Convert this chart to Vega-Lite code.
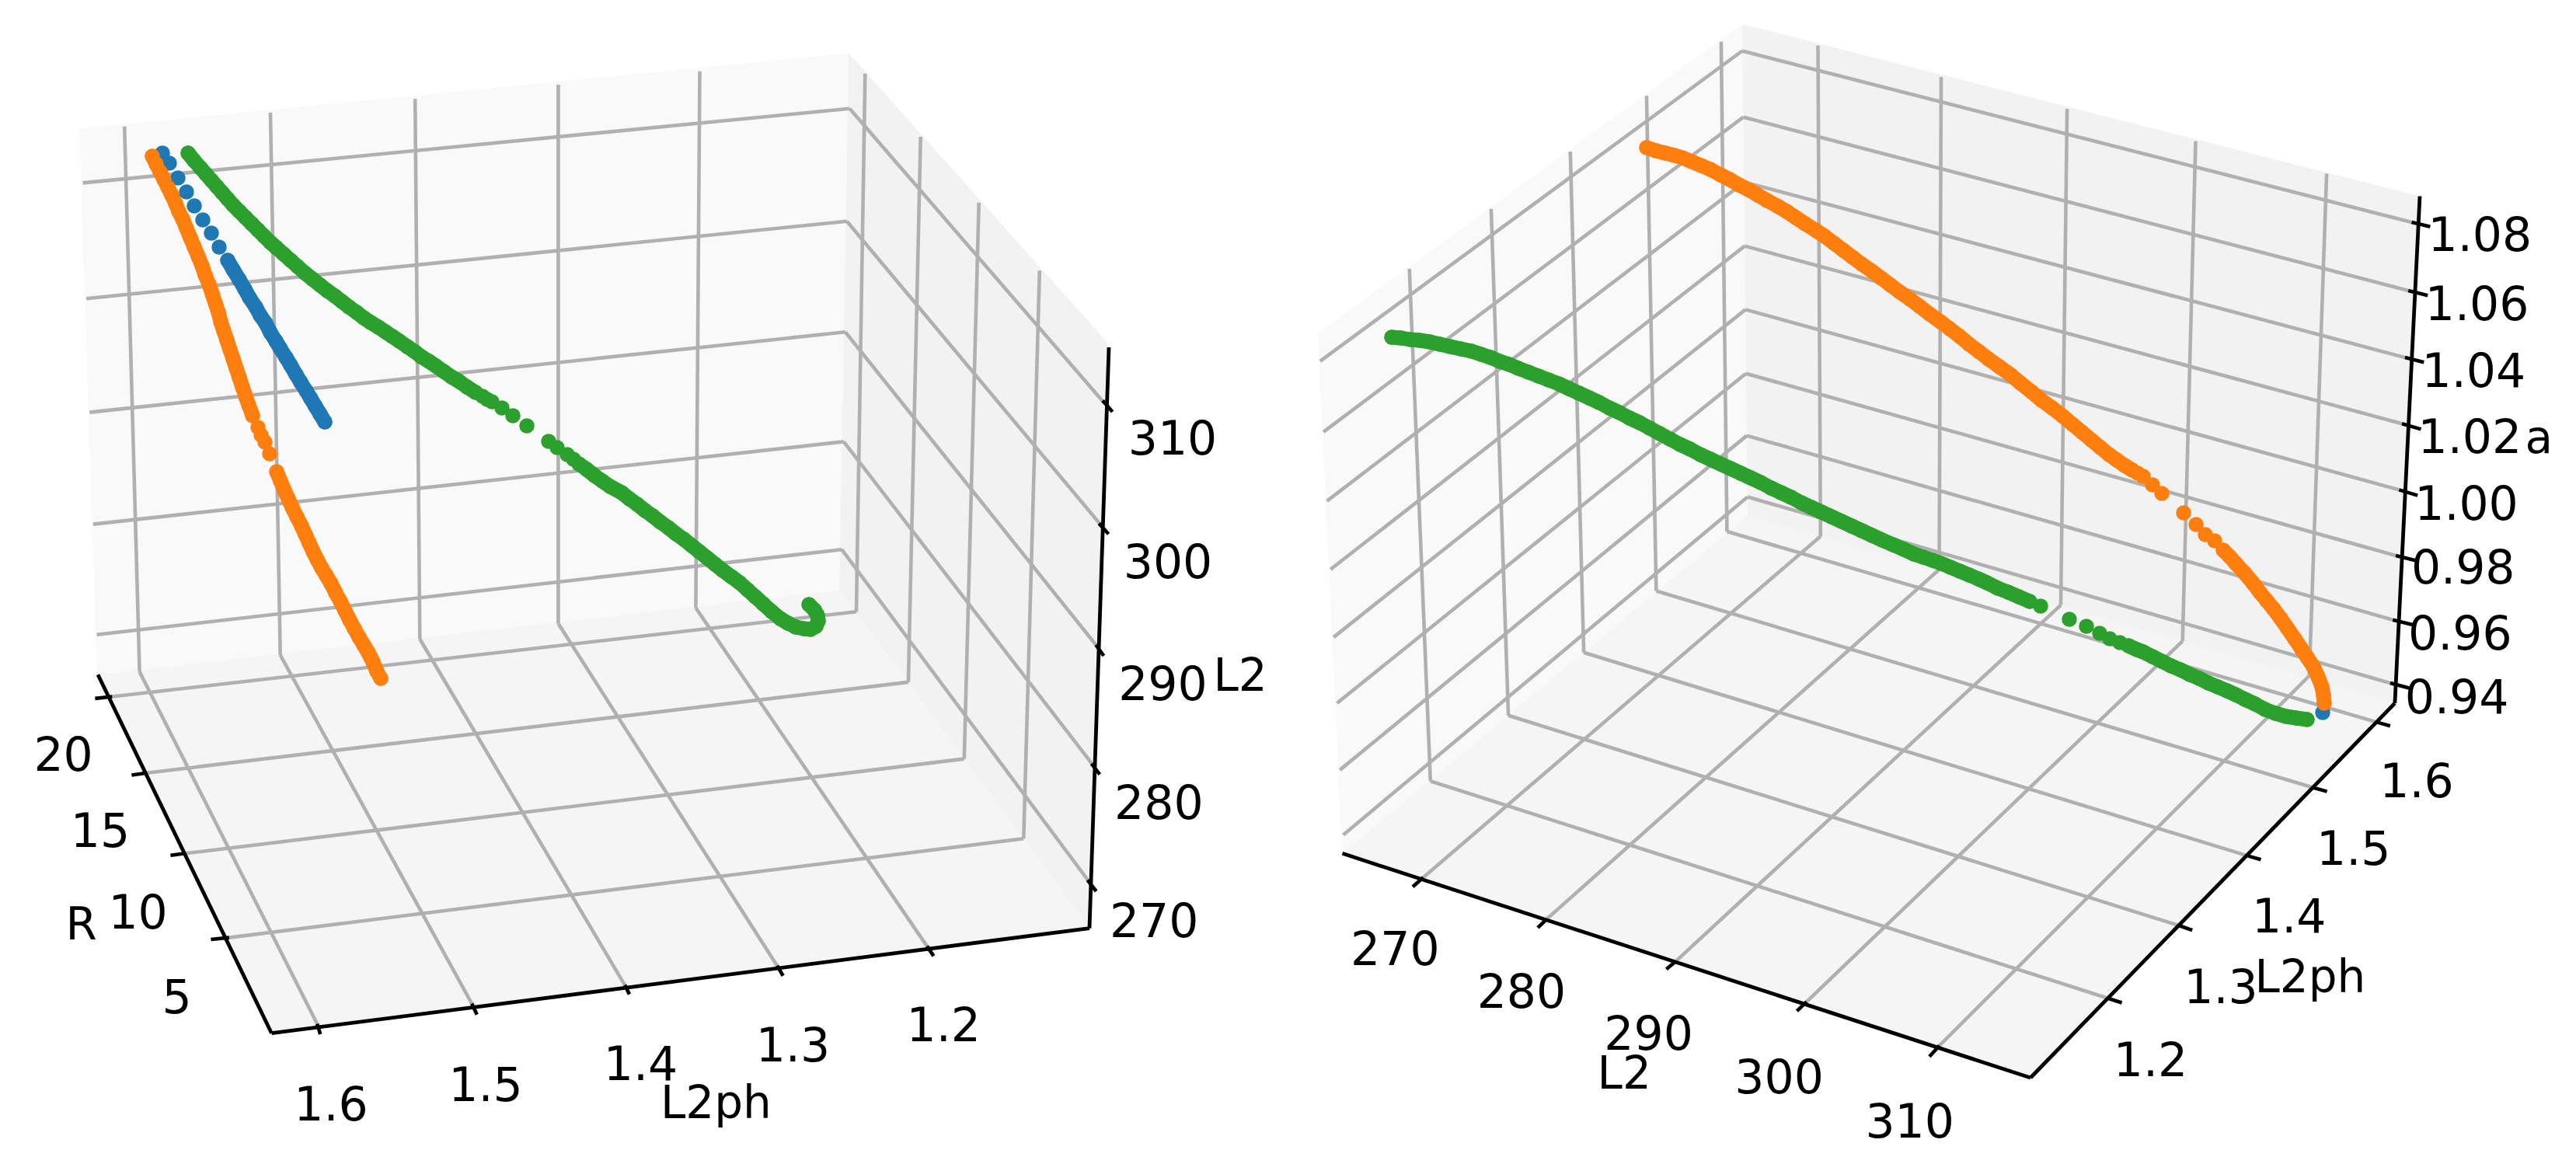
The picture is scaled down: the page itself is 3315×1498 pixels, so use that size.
{"$schema":"https://vega.github.io/schema/vega-lite/v6.json",
"width":3315,"height":1498,"padding":0,
"autosize":{"type":"fit","contains":"padding"},
"background":"#ffffff",
"config":{"view":{"stroke":null},"text":{"font":"DejaVu Sans"}},
"datasets":{
"panes":[
{"pane":"a1","i":0,"x":102,"y":165.5},{"pane":"a1","i":1,"x":1092.3,"y":68.4},{"pane":"a1","i":2,"x":1080,"y":759.5},{"pane":"a1","i":3,"x":125,"y":868.3},
{"pane":"b1","i":0,"x":1092.3,"y":68.4},{"pane":"b1","i":1,"x":1426.5,"y":442.6},{"pane":"b1","i":2,"x":1402,"y":1194.6},{"pane":"b1","i":3,"x":1080,"y":759.5},
{"pane":"c1","i":0,"x":125,"y":868.3},{"pane":"c1","i":1,"x":1080,"y":759.5},{"pane":"c1","i":2,"x":1402,"y":1194.6},{"pane":"c1","i":3,"x":349.5,"y":1329.7},
{"pane":"a2","i":0,"x":1696,"y":429},{"pane":"a2","i":1,"x":2242,"y":31},{"pane":"a2","i":2,"x":2249,"y":664},{"pane":"a2","i":3,"x":1727.5,"y":1098.3},
{"pane":"b2","i":0,"x":2242,"y":31},{"pane":"b2","i":1,"x":3113.9,"y":252.5},{"pane":"b2","i":2,"x":3081.9,"y":905},{"pane":"b2","i":3,"x":2249,"y":664},
{"pane":"c2","i":0,"x":1727.5,"y":1098.3},{"pane":"c2","i":1,"x":2249,"y":664},{"pane":"c2","i":2,"x":3081.9,"y":905},{"pane":"c2","i":3,"x":2613,"y":1387}
],
"grid":[
{"x":106.6,"y":235.4,"x2":1093.4,"y2":139.7},{"x":1093.4,"y":139.7,"x2":1421.4,"y2":519},
{"x":111.2,"y":384.2,"x2":1089.8,"y2":284.7},{"x":1089.8,"y":284.7,"x2":1415.8,"y2":674.6},
{"x":115.3,"y":530.6,"x2":1087.8,"y2":427.3},{"x":1087.8,"y":427.3,"x2":1411.2,"y2":831},
{"x":119.9,"y":674.6,"x2":1085.7,"y2":568.4},{"x":1085.7,"y":568.4,"x2":1406,"y2":983.8},
{"x":124.5,"y":816.8,"x2":1083.2,"y2":707.2},{"x":1083.2,"y":707.2,"x2":1401,"y2":1134},
{"x":160.2,"y":162.7,"x2":179.6,"y2":864.5},{"x":179.6,"y":864.5,"x2":408.2,"y2":1317.7},
{"x":348,"y":145,"x2":360.7,"y2":843},{"x":360.7,"y":843,"x2":607.1,"y2":1291.5},
{"x":534.2,"y":127.3,"x2":540.3,"y2":822.5},{"x":540.3,"y":822.5,"x2":804,"y2":1267.6},
{"x":718.4,"y":109,"x2":718.4,"y2":802.5},{"x":718.4,"y":802.5,"x2":1000,"y2":1242.8},
{"x":900.5,"y":91.8,"x2":895.4,"y2":782.4},{"x":895.4,"y":782.4,"x2":1192.9,"y2":1217.6},
{"x":1113.3,"y":94.7,"x2":1102,"y2":787.2},{"x":1102,"y":787.2,"x2":144.4,"y2":896.5},
{"x":1184.7,"y":176,"x2":1168.9,"y2":877.9},{"x":1168.9,"y":877.9,"x2":188.8,"y2":994.7},
{"x":1259.7,"y":260.7,"x2":1240.8,"y2":976.6},{"x":1240.8,"y":976.6,"x2":238.8,"y2":1098.3},
{"x":1337.8,"y":348.3,"x2":1317.3,"y2":1079.2},{"x":1317.3,"y":1079.2,"x2":294.9,"y2":1206.6},
{"x":1698.8,"y":464.9,"x2":2242,"y2":65.5},{"x":2242,"y":65.5,"x2":3103.5,"y2":286},
{"x":1703.1,"y":555.8,"x2":2243.6,"y2":150.7},{"x":2243.6,"y":150.7,"x2":3099.2,"y2":374},
{"x":1707.5,"y":644.8,"x2":2244.7,"y2":234.4},{"x":2244.7,"y":234.4,"x2":3094.9,"y2":460.1},
{"x":1712.3,"y":732.8,"x2":2245.2,"y2":316.6},{"x":2245.2,"y":316.6,"x2":3091,"y2":545.3},
{"x":1716.1,"y":820.1,"x2":2246.3,"y2":398.4},{"x":2246.3,"y":398.4,"x2":3087.3,"y2":630.4},
{"x":1720.5,"y":905,"x2":2246.8,"y2":480.7},{"x":2246.8,"y":480.7,"x2":3083,"y2":715},
{"x":1724.3,"y":990.9,"x2":2247.9,"y2":560.6},{"x":2247.9,"y":560.6,"x2":3079.2,"y2":797.8},
{"x":1728.6,"y":1074.4,"x2":2249,"y2":639.5},{"x":2249,"y":639.5,"x2":3075.9,"y2":879.1},
{"x":1813.7,"y":345.8,"x2":1840.8,"y2":1005.2},{"x":1840.8,"y":1005.2,"x2":2712.7,"y2":1284.7},
{"x":1918.9,"y":268.8,"x2":1941.1,"y2":920.8},{"x":1941.1,"y":920.8,"x2":2803.8,"y2":1191},
{"x":2020.8,"y":195.1,"x2":2038.1,"y2":839.7},{"x":2038.1,"y":839.7,"x2":2893.2,"y2":1101.6},
{"x":2118.9,"y":123.4,"x2":2131.4,"y2":760.5},{"x":2131.4,"y":760.5,"x2":2977.3,"y2":1013.8},
{"x":2214.9,"y":53.6,"x2":2222.4,"y2":684},{"x":2222.4,"y":684,"x2":3058.6,"y2":929.4},
{"x":2339.5,"y":58.4,"x2":2342.8,"y2":690.2},{"x":2342.8,"y":690.2,"x2":1831.6,"y2":1129.3},
{"x":2498,"y":99,"x2":2495.5,"y2":733},{"x":2495.5,"y":733,"x2":1988.8,"y2":1184.3},
{"x":2660.1,"y":140.1,"x2":2652,"y2":778.7},{"x":2652,"y":778.7,"x2":2156.8,"y2":1236.9},
{"x":2825.5,"y":181.8,"x2":2808.7,"y2":825.1},{"x":2808.7,"y":825.1,"x2":2324.9,"y2":1289.2},
{"x":2994.1,"y":223.4,"x2":2971.8,"y2":869.6},{"x":2971.8,"y":869.6,"x2":2495.9,"y2":1345.6}
],
"spines":[
{"x":126,"y":868.3,"x2":349.5,"y2":1329.7},{"x":349.5,"y":1329.7,"x2":1402,"y2":1194.6},{"x":1402,"y":1194.6,"x2":1427,"y2":447},
{"x":1727.5,"y":1098.3,"x2":2613,"y2":1387},{"x":2613,"y":1387,"x2":3081.9,"y2":905},{"x":3081.9,"y":905,"x2":3114,"y2":252.5}
],
"ticks":[
{"x":144.4,"y":896.5,"x2":122.4,"y2":898.9},{"x":188.8,"y":994.7,"x2":169.4,"y2":997.6},{"x":238.8,"y":1098.3,"x2":219.4,"y2":1100.7},{"x":294.9,"y":1206.6,"x2":271.4,"y2":1209},
{"x":408.2,"y":1317.7,"x2":412.2,"y2":1331},{"x":607.1,"y":1291.5,"x2":613.8,"y2":1305.8},{"x":804,"y":1267.6,"x2":810,"y2":1279.6},{"x":1000,"y":1242.8,"x2":1007.7,"y2":1255.7},{"x":1192.9,"y":1217.6,"x2":1201.5,"y2":1230.4},
{"x":1419,"y":515.6,"x2":1431.6,"y2":530},{"x":1414.3,"y":673.6,"x2":1426.5,"y2":687.3},{"x":1410.2,"y":830,"x2":1420.4,"y2":844},{"x":1404.6,"y":982.8,"x2":1415.3,"y2":996.7},{"x":1399.5,"y":1132.6,"x2":1410.7,"y2":1147},
{"x":3103.5,"y":286,"x2":3127.4,"y2":291.8},{"x":3099.2,"y":374,"x2":3124.2,"y2":380.2},{"x":3094.9,"y":460.1,"x2":3119.3,"y2":466.3},{"x":3091,"y":545.3,"x2":3115.5,"y2":552.4},{"x":3087.3,"y":630.4,"x2":3111.2,"y2":637.6},{"x":3083,"y":715,"x2":3108.4,"y2":721.3},{"x":3079.2,"y":797.8,"x2":3104.7,"y2":804},{"x":3075.9,"y":879.1,"x2":3100.3,"y2":885.4},
{"x":1831.6,"y":1129.3,"x2":1818,"y2":1141.2},{"x":1988.8,"y":1184.3,"x2":1979,"y2":1193.9},{"x":2156.8,"y":1236.9,"x2":2144.4,"y2":1247.2},{"x":2324.9,"y":1289.2,"x2":2312.4,"y2":1301.1},{"x":2495.9,"y":1345.6,"x2":2482.9,"y2":1359.8},
{"x":2712.7,"y":1284.7,"x2":2730.6,"y2":1290.5},{"x":2803.8,"y":1191,"x2":2821.2,"y2":1197.2},{"x":2893.2,"y":1101.6,"x2":2909.5,"y2":1106.3},{"x":2977.3,"y":1013.8,"x2":2994.6,"y2":1018.6},{"x":3058.6,"y":929.4,"x2":3075.9,"y2":934.2}
],
"points":[
{"s":"blue","x":209,"y":197},{"s":"blue","x":218,"y":210},{"s":"blue","x":229,"y":229},{"s":"blue","x":240,"y":247},{"s":"blue","x":250,"y":265},{"s":"blue","x":261,"y":283},{"s":"blue","x":272,"y":300},{"s":"blue","x":282,"y":318},{"s":"blue","x":293,"y":335},{"s":"blue","x":300,"y":347},{"s":"blue","x":308,"y":360},{"s":"blue","x":315,"y":372},{"s":"blue","x":321,"y":383},{"s":"blue","x":329,"y":395},{"s":"blue","x":335,"y":406},{"s":"blue","x":342,"y":416},{"s":"blue","x":348,"y":428},{"s":"blue","x":355,"y":439},{"s":"blue","x":361,"y":449},{"s":"blue","x":368,"y":460},{"s":"blue","x":374,"y":470},{"s":"blue","x":381,"y":482},{"s":"blue","x":387,"y":492},{"s":"blue","x":394,"y":503},{"s":"blue","x":400,"y":513},{"s":"blue","x":406,"y":523},{"s":"blue","x":412,"y":533},{"s":"blue","x":418,"y":543},
{"s":"blue","x":2989,"y":917},
{"s":"orange","x":196,"y":201},{"s":"orange","x":201,"y":211},{"s":"orange","x":206,"y":221},{"s":"orange","x":211,"y":231},{"s":"orange","x":216,"y":241},{"s":"orange","x":221,"y":251},{"s":"orange","x":226,"y":262},{"s":"orange","x":230,"y":272},{"s":"orange","x":235,"y":282},{"s":"orange","x":240,"y":294},{"s":"orange","x":245,"y":306},{"s":"orange","x":250,"y":318},{"s":"orange","x":255,"y":330},{"s":"orange","x":260,"y":342},{"s":"orange","x":264,"y":354},{"s":"orange","x":269,"y":366},{"s":"orange","x":273,"y":378},{"s":"orange","x":277,"y":390},{"s":"orange","x":281,"y":402},{"s":"orange","x":284,"y":414},{"s":"orange","x":288,"y":426},{"s":"orange","x":292,"y":438},{"s":"orange","x":296,"y":450},{"s":"orange","x":300,"y":462},{"s":"orange","x":304,"y":474},{"s":"orange","x":308,"y":486},{"s":"orange","x":312,"y":498},{"s":"orange","x":316,"y":510},{"s":"orange","x":320,"y":521},{"s":"orange","x":325,"y":535},{"s":"orange","x":332,"y":550},{"s":"orange","x":336,"y":560},{"s":"orange","x":341,"y":569},{"s":"orange","x":347,"y":584},
{"s":"orange","x":356,"y":607},{"s":"orange","x":361,"y":619},{"s":"orange","x":366,"y":631},{"s":"orange","x":371,"y":642},{"s":"orange","x":376,"y":653},{"s":"orange","x":382,"y":665},{"s":"orange","x":388,"y":677},{"s":"orange","x":393,"y":688},{"s":"orange","x":398,"y":699},{"s":"orange","x":403,"y":710},{"s":"orange","x":408,"y":720},{"s":"orange","x":414,"y":731},{"s":"orange","x":420,"y":741},{"s":"orange","x":426,"y":751},{"s":"orange","x":432,"y":763},{"s":"orange","x":438,"y":774},{"s":"orange","x":444,"y":786},{"s":"orange","x":450,"y":798},{"s":"orange","x":456,"y":809},{"s":"orange","x":462,"y":820},{"s":"orange","x":468,"y":830},{"s":"orange","x":474,"y":840},{"s":"orange","x":477,"y":846},{"s":"orange","x":480,"y":852},{"s":"orange","x":485,"y":864},{"s":"orange","x":490,"y":873},
{"s":"orange","x":2119,"y":190},{"s":"orange","x":2131,"y":194},{"s":"orange","x":2143,"y":197},{"s":"orange","x":2155,"y":200},{"s":"orange","x":2165,"y":203},{"s":"orange","x":2177,"y":208},{"s":"orange","x":2189,"y":213},{"s":"orange","x":2201,"y":218},{"s":"orange","x":2214,"y":225},{"s":"orange","x":2226,"y":231},{"s":"orange","x":2238,"y":238},{"s":"orange","x":2250,"y":244},{"s":"orange","x":2262,"y":251},{"s":"orange","x":2274,"y":258},{"s":"orange","x":2287,"y":265},{"s":"orange","x":2299,"y":272},{"s":"orange","x":2311,"y":280},{"s":"orange","x":2323,"y":288},{"s":"orange","x":2336,"y":296},{"s":"orange","x":2348,"y":304},{"s":"orange","x":2360,"y":313},{"s":"orange","x":2372,"y":322},{"s":"orange","x":2384,"y":331},{"s":"orange","x":2396,"y":340},{"s":"orange","x":2409,"y":349},{"s":"orange","x":2421,"y":358},{"s":"orange","x":2433,"y":367},{"s":"orange","x":2445,"y":376},{"s":"orange","x":2458,"y":385},{"s":"orange","x":2470,"y":394},{"s":"orange","x":2483,"y":404},{"s":"orange","x":2497,"y":414},{"s":"orange","x":2509,"y":423},{"s":"orange","x":2522,"y":433},{"s":"orange","x":2534,"y":443},{"s":"orange","x":2546,"y":452},{"s":"orange","x":2559,"y":462},{"s":"orange","x":2573,"y":472},{"s":"orange","x":2587,"y":482},{"s":"orange","x":2600,"y":493},{"s":"orange","x":2614,"y":504},{"s":"orange","x":2627,"y":515},{"s":"orange","x":2641,"y":525},{"s":"orange","x":2655,"y":536},{"s":"orange","x":2667,"y":546},{"s":"orange","x":2679,"y":556},{"s":"orange","x":2691,"y":566},{"s":"orange","x":2703,"y":576},{"s":"orange","x":2714,"y":585},{"s":"orange","x":2724,"y":592},{"s":"orange","x":2734,"y":599},{"s":"orange","x":2744,"y":605},{"s":"orange","x":2751,"y":609},{"s":"orange","x":2758,"y":613},{"s":"orange","x":2770,"y":624},{"s":"orange","x":2782,"y":635},
{"s":"orange","x":2810,"y":660},{"s":"orange","x":2826,"y":675},{"s":"orange","x":2838,"y":688},{"s":"orange","x":2850,"y":696},{"s":"orange","x":2861,"y":708},{"s":"orange","x":2869,"y":716},{"s":"orange","x":2877,"y":725},{"s":"orange","x":2888,"y":737},{"s":"orange","x":2899,"y":750},{"s":"orange","x":2908,"y":762},{"s":"orange","x":2917,"y":773},{"s":"orange","x":2926,"y":784},{"s":"orange","x":2935,"y":796},{"s":"orange","x":2944,"y":809},{"s":"orange","x":2953,"y":822},{"s":"orange","x":2961,"y":834},{"s":"orange","x":2969,"y":846},{"s":"orange","x":2977,"y":858},{"s":"orange","x":2983,"y":871},{"s":"orange","x":2988,"y":884},{"s":"orange","x":2990,"y":895},{"s":"orange","x":2991,"y":905},
{"s":"green","x":242,"y":197},{"s":"green","x":250,"y":207},{"s":"green","x":258,"y":216},{"s":"green","x":265,"y":224},{"s":"green","x":272,"y":232},{"s":"green","x":279,"y":240},{"s":"green","x":286,"y":248},{"s":"green","x":293,"y":256},{"s":"green","x":300,"y":264},{"s":"green","x":308,"y":272},{"s":"green","x":316,"y":280},{"s":"green","x":324,"y":288},{"s":"green","x":332,"y":296},{"s":"green","x":340,"y":304},{"s":"green","x":348,"y":312},{"s":"green","x":356,"y":319},{"s":"green","x":365,"y":327},{"s":"green","x":374,"y":335},{"s":"green","x":383,"y":343},{"s":"green","x":392,"y":351},{"s":"green","x":402,"y":359},{"s":"green","x":412,"y":367},{"s":"green","x":421,"y":374},{"s":"green","x":431,"y":381},{"s":"green","x":440,"y":388},{"s":"green","x":449,"y":395},{"s":"green","x":459,"y":402},{"s":"green","x":468,"y":409},{"s":"green","x":477,"y":415},{"s":"green","x":487,"y":421},{"s":"green","x":496,"y":427},{"s":"green","x":505,"y":433},{"s":"green","x":514,"y":439},{"s":"green","x":524,"y":446},{"s":"green","x":533,"y":452},{"s":"green","x":542,"y":459},{"s":"green","x":552,"y":465},{"s":"green","x":561,"y":471},{"s":"green","x":571,"y":478},{"s":"green","x":581,"y":485},{"s":"green","x":591,"y":491},{"s":"green","x":601,"y":498},{"s":"green","x":612,"y":505},{"s":"green","x":621,"y":510},{"s":"green","x":627,"y":514},{"s":"green","x":633,"y":517},{"s":"green","x":646,"y":525},{"s":"green","x":660,"y":535},{"s":"green","x":678,"y":548},
{"s":"green","x":706,"y":568},{"s":"green","x":717,"y":576},{"s":"green","x":730,"y":585},{"s":"green","x":738,"y":591},{"s":"green","x":745,"y":597},{"s":"green","x":755,"y":604},{"s":"green","x":765,"y":612},{"s":"green","x":775,"y":619},{"s":"green","x":785,"y":626},{"s":"green","x":800,"y":634},{"s":"green","x":810,"y":642},{"s":"green","x":820,"y":649},{"s":"green","x":830,"y":657},{"s":"green","x":840,"y":664},{"s":"green","x":850,"y":672},{"s":"green","x":860,"y":679},{"s":"green","x":870,"y":687},{"s":"green","x":880,"y":694},{"s":"green","x":890,"y":702},{"s":"green","x":900,"y":710},{"s":"green","x":910,"y":718},{"s":"green","x":920,"y":726},{"s":"green","x":930,"y":734},{"s":"green","x":941,"y":742},{"s":"green","x":952,"y":750},{"s":"green","x":962,"y":759},{"s":"green","x":972,"y":768},{"s":"green","x":982,"y":777},{"s":"green","x":993,"y":787},{"s":"green","x":1004,"y":796},{"s":"green","x":1014,"y":802},{"s":"green","x":1024,"y":807},{"s":"green","x":1034,"y":809},{"s":"green","x":1043,"y":810},{"s":"green","x":1050,"y":806},{"s":"green","x":1053,"y":799},{"s":"green","x":1052,"y":792},{"s":"green","x":1048,"y":785},{"s":"green","x":1041,"y":778},
{"s":"green","x":1791,"y":434},{"s":"green","x":1803,"y":435},{"s":"green","x":1815,"y":437},{"s":"green","x":1827,"y":438},{"s":"green","x":1840,"y":440},{"s":"green","x":1853,"y":443},{"s":"green","x":1866,"y":446},{"s":"green","x":1880,"y":449},{"s":"green","x":1894,"y":452},{"s":"green","x":1906,"y":456},{"s":"green","x":1918,"y":460},{"s":"green","x":1930,"y":465},{"s":"green","x":1942,"y":469},{"s":"green","x":1954,"y":474},{"s":"green","x":1967,"y":479},{"s":"green","x":1980,"y":484},{"s":"green","x":1993,"y":489},{"s":"green","x":2006,"y":494},{"s":"green","x":2019,"y":500},{"s":"green","x":2032,"y":506},{"s":"green","x":2045,"y":512},{"s":"green","x":2058,"y":518},{"s":"green","x":2071,"y":525},{"s":"green","x":2084,"y":531},{"s":"green","x":2097,"y":538},{"s":"green","x":2110,"y":544},{"s":"green","x":2123,"y":551},{"s":"green","x":2136,"y":558},{"s":"green","x":2149,"y":565},{"s":"green","x":2162,"y":572},{"s":"green","x":2175,"y":578},{"s":"green","x":2188,"y":585},{"s":"green","x":2201,"y":591},{"s":"green","x":2214,"y":597},{"s":"green","x":2227,"y":603},{"s":"green","x":2240,"y":609},{"s":"green","x":2253,"y":615},{"s":"green","x":2266,"y":621},{"s":"green","x":2279,"y":628},{"s":"green","x":2292,"y":634},{"s":"green","x":2305,"y":640},{"s":"green","x":2318,"y":647},{"s":"green","x":2331,"y":653},{"s":"green","x":2344,"y":659},{"s":"green","x":2357,"y":665},{"s":"green","x":2370,"y":671},{"s":"green","x":2383,"y":677},{"s":"green","x":2396,"y":683},{"s":"green","x":2409,"y":689},{"s":"green","x":2422,"y":695},{"s":"green","x":2436,"y":701},{"s":"green","x":2450,"y":707},{"s":"green","x":2463,"y":713},{"s":"green","x":2475,"y":717},{"s":"green","x":2487,"y":721},{"s":"green","x":2498,"y":725},{"s":"green","x":2510,"y":730},{"s":"green","x":2522,"y":735},{"s":"green","x":2534,"y":740},{"s":"green","x":2546,"y":745},{"s":"green","x":2557,"y":750},{"s":"green","x":2571,"y":757},{"s":"green","x":2584,"y":762},{"s":"green","x":2598,"y":768},{"s":"green","x":2612,"y":774},{"s":"green","x":2626,"y":780},
{"s":"green","x":2663,"y":797},{"s":"green","x":2685,"y":806},{"s":"green","x":2702,"y":815},{"s":"green","x":2715,"y":822},{"s":"green","x":2728,"y":827},{"s":"green","x":2739,"y":831},{"s":"green","x":2750,"y":836},{"s":"green","x":2758,"y":839},{"s":"green","x":2770,"y":845},{"s":"green","x":2782,"y":851},{"s":"green","x":2794,"y":857},{"s":"green","x":2806,"y":862},{"s":"green","x":2818,"y":868},{"s":"green","x":2830,"y":873},{"s":"green","x":2842,"y":879},{"s":"green","x":2854,"y":884},{"s":"green","x":2866,"y":889},{"s":"green","x":2877,"y":894},{"s":"green","x":2889,"y":900},{"s":"green","x":2902,"y":906},{"s":"green","x":2915,"y":913},{"s":"green","x":2928,"y":918},{"s":"green","x":2942,"y":922},{"s":"green","x":2955,"y":924},{"s":"green","x":2969,"y":926}
],
"tickLabels":[
{"t":"20","x":81.6,"y":969.5},{"t":"15","x":129,"y":1068},{"t":"10","x":177.6,"y":1172.7},{"t":"5","x":227.5,"y":1282},
{"t":"1.6","x":426,"y":1420.3},{"t":"1.5","x":625,"y":1395},{"t":"1.4","x":824.5,"y":1368},{"t":"1.3","x":1020.4,"y":1344},{"t":"1.2","x":1214.3,"y":1317.7},
{"t":"310","x":1509,"y":563.4},{"t":"300","x":1503,"y":722.4},{"t":"290","x":1496.4,"y":878.8},{"t":"280","x":1491.3,"y":1032.4},{"t":"270","x":1485.2,"y":1184},
{"t":"1.08","x":3191.4,"y":301.3},{"t":"1.06","x":3187.6,"y":389.8},{"t":"1.04","x":3183.3,"y":475.9},{"t":"1.02","x":3178.4,"y":560.6},{"t":"1.00","x":3174,"y":646.7},{"t":"0.98","x":3169.7,"y":729.4},{"t":"0.96","x":3165.9,"y":813.6},{"t":"0.94","x":3161.6,"y":895.5},
{"t":"270","x":1795.3,"y":1220},{"t":"280","x":1957.9,"y":1274.8},{"t":"290","x":2121.6,"y":1328.8},{"t":"300","x":2289.6,"y":1384.6},{"t":"310","x":2457.7,"y":1441.8},
{"t":"1.6","x":3110,"y":1004.3},{"t":"1.5","x":3028.7,"y":1091.1},{"t":"1.4","x":2945.8,"y":1178.4},{"t":"1.3","x":2858,"y":1269.1},{"t":"1.2","x":2767.5,"y":1363}
],
"axisTitles":[
{"t":"R","x":104.6,"y":1190},{"t":"L2ph","x":921.4,"y":1420},{"t":"L2","x":1596,"y":870},
{"t":"a","x":3267.3,"y":564.4},{"t":"L2","x":2090.2,"y":1382.2},{"t":"L2ph","x":2972.9,"y":1258}
]
},
"layer":[
{"data":{"name":"panes"},
 "mark":{"type":"line","filled":true,"strokeWidth":0},
 "encoding":{
  "x":{"field":"x","type":"quantitative","scale":{"domain":[0,3315],"nice":false,"zero":false},"axis":null},
  "y":{"field":"y","type":"quantitative","scale":{"domain":[1498,0],"nice":false,"zero":false},"axis":null},
  "order":{"field":"i"},
  "color":{"field":"pane","type":"nominal","legend":null,"scale":{"domain":["a1","b1","c1","a2","b2","c2"],"range":["#f9f9f9","#f2f2f2","#f5f5f5","#f9f9f9","#f2f2f2","#f5f5f5"]}}}},
{"data":{"name":"grid"},
 "mark":{"type":"rule","color":"#b0b0b0","strokeWidth":4.6},
 "encoding":{"x":{"field":"x","type":"quantitative"},"y":{"field":"y","type":"quantitative"},"x2":{"field":"x2"},"y2":{"field":"y2"}}},
{"data":{"name":"ticks"},
 "mark":{"type":"rule","color":"#000000","strokeWidth":4.6},
 "encoding":{"x":{"field":"x","type":"quantitative"},"y":{"field":"y","type":"quantitative"},"x2":{"field":"x2"},"y2":{"field":"y2"}}},
{"data":{"name":"spines"},
 "mark":{"type":"rule","color":"#000000","strokeWidth":4.8},
 "encoding":{"x":{"field":"x","type":"quantitative"},"y":{"field":"y","type":"quantitative"},"x2":{"field":"x2"},"y2":{"field":"y2"}}},
{"data":{"name":"points"},
 "transform":[
  {"window":[{"op":"row_number","as":"n"}]},
  {"calculate":"datum.s=='blue'?(datum.x>=293&&datum.x<=418?'b1':''):datum.s=='orange'?(datum.x<=325?'o1':datum.x>=356&&datum.x<=490?'o2':datum.x>=2119&&datum.x<=2744?'o3':datum.x>=2861?'o4':''):(datum.x<=612?'g1':datum.x>=745&&datum.x<=1053?'g2':datum.x>=1791&&datum.x<=2612?'g3':datum.x>=2739?'g4':'')","as":"run"},
  {"filter":"datum.run!=''"}
 ],
 "mark":{"type":"line","strokeWidth":19,"strokeCap":"round","strokeJoin":"round"},
 "encoding":{"x":{"field":"x","type":"quantitative"},"y":{"field":"y","type":"quantitative"},
  "order":{"field":"n"},"detail":{"field":"run"},
  "color":{"field":"s","type":"nominal","legend":null,"scale":{"domain":["blue","orange","green"],"range":["#1f77b4","#ff7f0e","#2ca02c"]}}}},
{"data":{"name":"points"},
 "mark":{"type":"circle","opacity":1,"size":380},
 "encoding":{"x":{"field":"x","type":"quantitative"},"y":{"field":"y","type":"quantitative"},
  "color":{"field":"s","type":"nominal","legend":null,"scale":{"domain":["blue","orange","green"],"range":["#1f77b4","#ff7f0e","#2ca02c"]}}}},
{"data":{"name":"tickLabels"},
 "mark":{"type":"text","font":"DejaVu Sans","fontSize":60,"align":"center","baseline":"middle","dy":4,"color":"#000000"},
 "encoding":{"x":{"field":"x","type":"quantitative"},"y":{"field":"y","type":"quantitative"},"text":{"field":"t"}}},
{"data":{"name":"axisTitles"},
 "mark":{"type":"text","font":"DejaVu Sans","fontSize":58,"align":"center","baseline":"middle","dy":2,"color":"#000000"},
 "encoding":{"x":{"field":"x","type":"quantitative"},"y":{"field":"y","type":"quantitative"},"text":{"field":"t"}}}
],
"resolve":{"scale":{"color":"independent"}}
}
